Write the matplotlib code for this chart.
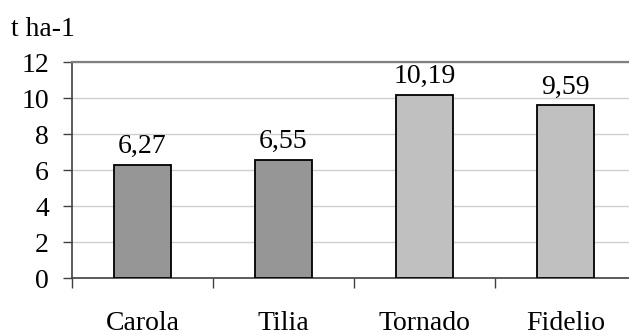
import matplotlib
matplotlib.use("Agg")
import matplotlib.pyplot as plt
from matplotlib.ticker import FixedLocator

categories = ["Carola", "Tilia", "Tornado", "Fidelio"]
values = [6.27, 6.55, 10.19, 9.59]
value_labels = ["6,27", "6,55", "10,19", "9,59"]
bar_colors = ["#969696", "#969696", "#C0C0C0", "#C0C0C0"]
yticks = [0, 2, 4, 6, 8, 10, 12]

plt.rcParams['font.family'] = ['Liberation Serif', 'DejaVu Serif']
FS = 20

fig = plt.figure(figsize=(6.29, 3.35), dpi=100)
ax = fig.add_axes([72/629, 1-278/335, 564/629, 216/335])

x = list(range(len(categories)))
ax.bar(x, values, width=0.41, color=bar_colors, edgecolor="black", linewidth=1.3, zorder=3)

for xi, v, lab in zip(x, values, value_labels):
    ax.annotate(lab, (xi, v), xytext=(0, 8.5), textcoords="offset points",
                ha="center", va="baseline", fontsize=FS)

ax.set_xlim(-0.5, len(categories) - 0.5)
ax.set_ylim(0, 12)
ax.set_yticks(yticks)
ax.set_yticklabels([str(t) for t in yticks], fontsize=FS)
ax.yaxis.grid(True, color="#CFCFCF", linewidth=1)
ax.set_axisbelow(True)

ax.set_xticks(x)
ax.set_xticklabels(categories, fontsize=FS)
ax.tick_params(axis="x", which="major", length=0, pad=24)
ax.xaxis.set_minor_locator(FixedLocator([i - 0.5 for i in range(len(categories) + 1)]))
ax.tick_params(axis="x", which="minor", length=7, width=1, color="#404040")
ax.tick_params(axis="y", length=6.5, width=1, color="#404040", pad=10)

ax.spines["right"].set_visible(False)
ax.spines["top"].set_color("#808080")
ax.spines["top"].set_linewidth(1.6)
ax.spines["left"].set_color("#404040")
ax.spines["bottom"].set_color("#404040")
ax.spines["left"].set_linewidth(1.2)
ax.spines["bottom"].set_linewidth(1.2)

fig.text(11/629, 1-30/335, "t ha-1", fontsize=FS, va="center", ha="left")

fig.savefig("out.png", dpi=100)
